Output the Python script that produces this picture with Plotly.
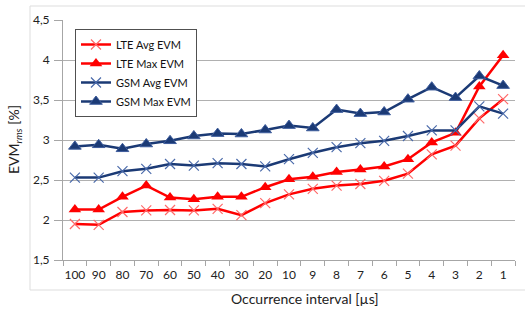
import plotly.graph_objects as go

categories = ["100", "90", "80", "70", "60", "50", "40", "30", "20", "10",
              "9", "8", "7", "6", "5", "4", "3", "2", "1"]
lte_avg = [1.95, 1.94, 2.10, 2.12, 2.125, 2.12, 2.14, 2.06, 2.21, 2.32,
           2.39, 2.43, 2.45, 2.49, 2.58, 2.82, 2.93, 3.27, 3.51]
lte_max = [2.13, 2.13, 2.29, 2.43, 2.28, 2.26, 2.29, 2.29, 2.41, 2.51,
           2.54, 2.60, 2.63, 2.67, 2.76, 2.97, 3.09, 3.67, 4.06]
gsm_avg = [2.53, 2.53, 2.61, 2.64, 2.70, 2.68, 2.71, 2.70, 2.67, 2.76,
           2.84, 2.91, 2.96, 2.99, 3.05, 3.12, 3.12, 3.42, 3.33]
gsm_max = [2.92, 2.94, 2.89, 2.95, 2.99, 3.05, 3.08, 3.075, 3.125, 3.18,
           3.15, 3.38, 3.33, 3.35, 3.51, 3.66, 3.53, 3.80, 3.68]
y_ticks = [1.5, 2, 2.5, 3, 3.5, 4, 4.5]
y_tick_labels = ["1,5", "2", "2,5", "3", "3,5", "4", "4,5"]

RED = "#FF0000"
NAVY = "#1B3A75"
FONT = "Lato, 'Open Sans', sans-serif"

fig = go.Figure()
fig.add_trace(go.Scatter(
    x=categories, y=lte_avg, name="LTE Avg EVM", mode="lines+markers",
    line=dict(color=RED, width=2.5),
    marker=dict(symbol="x-thin", size=10, line=dict(color="#FF6A6A", width=1.2))))
fig.add_trace(go.Scatter(
    x=categories, y=lte_max, name="LTE Max EVM", mode="lines+markers",
    line=dict(color=RED, width=2.5),
    marker=dict(symbol="triangle-up", size=11, color=RED, line=dict(color=RED, width=0))))
fig.add_trace(go.Scatter(
    x=categories, y=gsm_avg, name="GSM Avg EVM", mode="lines+markers",
    line=dict(color=NAVY, width=2.5),
    marker=dict(symbol="x-thin", size=10, line=dict(color="#4A6AAA", width=1.2))))
fig.add_trace(go.Scatter(
    x=categories, y=gsm_max, name="GSM Max EVM", mode="lines+markers",
    line=dict(color=NAVY, width=2.5),
    marker=dict(symbol="triangle-up", size=11, color=NAVY, line=dict(color="#3D5C9C", width=1))))

fig.update_layout(
    width=525, height=309,
    margin=dict(l=63, r=10, t=20, b=49, autoexpand=False),
    paper_bgcolor="white", plot_bgcolor="white",
    font=dict(family=FONT, size=11, color="#222222"),
    showlegend=True,
    legend=dict(x=0.0265, y=0.9625, xanchor="left", yanchor="top",
                bgcolor="white", bordercolor="#505050", borderwidth=1,
                font=dict(family=FONT, size=11, color="#111111"),
                itemwidth=30, tracegroupgap=0),
    shapes=[dict(type="rect", xref="paper", yref="paper",
                 x0=-33/452, x1=1.05, y0=-30/240, y1=1 + 14/240,
                 line=dict(color="#DDDDDD", width=1), layer="below")],
    annotations=[
        dict(text="EVM<sub><i>rms</i></sub> [%]", xref="paper", yref="paper",
             x=-49/452, y=0.5, textangle=-90, showarrow=False,
             xanchor="center", yanchor="middle",
             font=dict(family=FONT, size=14, color="#222222")),
        dict(text="Occurrence interval [µs]", xref="paper", yref="paper",
             x=(305 - 63) / 452, y=-38 / 240, showarrow=False,
             xanchor="center", yanchor="middle",
             font=dict(family=FONT, size=14, color="#222222")),
    ],
)
fig.update_xaxes(type="category", showgrid=False, showline=True,
                 linecolor="#A6A6A6", linewidth=1,
                 ticks="outside", tickson="boundaries", ticklen=5,
                 tickcolor="#A6A6A6", tickfont=dict(size=12, color="#222222"),
                 tickangle=0, ticklabelstandoff=4,
                 range=[-0.5, 18.5], automargin=False)
fig.update_yaxes(range=[1.5, 4.5], tickvals=y_ticks, ticktext=y_tick_labels,
                 showgrid=True, gridcolor="#B0B0B0", gridwidth=1,
                 showline=True, linecolor="#A6A6A6", linewidth=1,
                 ticks="outside", ticklen=8, tickcolor="#A6A6A6",
                 tickfont=dict(size=12, color="#222222"), ticklabelstandoff=2,
                 zeroline=False, automargin=False)

fig.write_html("out.html", config={"displayModeBar": False},
               post_script="document.body.style.margin='0';")
